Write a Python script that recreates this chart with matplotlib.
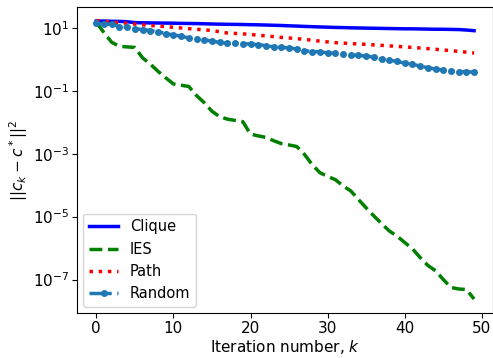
import matplotlib
matplotlib.use("Agg")
import matplotlib.pyplot as plt

# iteration index
k = list(range(50))

clique = [16.6, 16.6, 16.3, 16.2, 15.8, 14.8, 14.6, 14.5, 14.4, 14.3,
          14.2, 14.0, 13.9, 13.8, 13.6, 13.4, 13.2, 13.1, 13.0, 12.9,
          12.7, 12.6, 12.4, 12.2, 12.0, 11.7, 11.5, 11.2, 11.0, 10.8,
          10.6, 10.4, 10.3, 10.1, 10.0, 9.9, 9.8, 9.7, 9.6, 9.5,
          9.4, 9.4, 9.3, 9.2, 9.1, 9.1, 9.0, 8.9, 8.6, 8.2]

ies = [15.1, 7.1, 3.5, 2.6, 2.5, 2.4, 1.12, 0.71, 0.42, 0.26,
       0.166, 0.151, 0.138, 0.071, 0.042, 0.0224, 0.0151, 0.0126, 0.0115, 0.0105,
       0.0042, 0.0037, 0.0033, 0.0026, 0.0021, 0.0019, 0.0017, 9.5e-4, 4.5e-4, 2.5e-4,
       1.9e-4, 1.5e-4, 9.5e-5, 6.6e-5, 3.5e-5, 1.9e-5, 1.05e-5, 6.0e-6, 3.5e-6, 2.4e-6,
       1.5e-6, 9.5e-7, 5.0e-7, 2.8e-7, 1.9e-7, 1.0e-7, 5.6e-8, 5.0e-8, 4.8e-8, 2.4e-8]

path = [16.6, 16.2, 15.5, 14.8, 14.1, 13.3, 12.6, 12.0, 11.5, 11.0,
        10.5, 10.0, 9.5, 9.1, 8.7, 8.3, 7.6, 6.9, 6.7, 6.5,
        6.2, 5.9, 5.6, 5.3, 5.0, 4.8, 4.6, 4.3, 4.1, 3.8,
        3.6, 3.4, 3.3, 3.2, 3.1, 3.0, 2.9, 2.8, 2.7, 2.6,
        2.5, 2.4, 2.3, 2.2, 2.1, 2.0, 1.9, 1.8, 1.7, 1.6]

random_ = [14.1, 13.2, 13.2, 11.0, 10.5, 9.5, 8.9, 8.3, 7.6, 6.6,
           6.0, 5.5, 4.8, 4.4, 4.2, 3.8, 3.5, 3.24, 3.24, 3.16,
           3.09, 2.95, 2.75, 2.51, 2.40, 2.34, 2.14, 1.91, 1.78, 1.74,
           1.62, 1.55, 1.48, 1.38, 1.35, 1.26, 1.20, 1.0, 0.93, 0.87,
           0.76, 0.72, 0.60, 0.55, 0.49, 0.46, 0.42, 0.41, 0.41, 0.39]

fig = plt.figure(figsize=(4.93, 3.58), dpi=100)
ax = fig.add_axes([0.157, 0.126, 0.843, 0.854])

ax.semilogy(k, clique, color="blue", lw=2.5, label="Clique")
ax.semilogy(k, ies, color="green", lw=2.5, ls="--", label="IES")
ax.semilogy(k, path, color="red", lw=2.5, ls=":", label="Path")
ax.semilogy(k, random_, color="tab:blue", lw=2.5, ls="-.", marker="o",
            markersize=4, label="Random")

ax.set_xlim(-2.45, 51.45)
ax.set_xticks([0, 10, 20, 30, 40, 50])
ax.tick_params(labelsize=11, pad=2.5)
ax.set_xlabel("Iteration number, $k$", fontsize=11, labelpad=1)
ax.set_ylabel("$||c_k - c^*||^2$", fontsize=11, labelpad=2)
ax.legend(loc="lower left", fontsize=10.5, borderaxespad=0.4)

fig.savefig("out.png", dpi=100)
